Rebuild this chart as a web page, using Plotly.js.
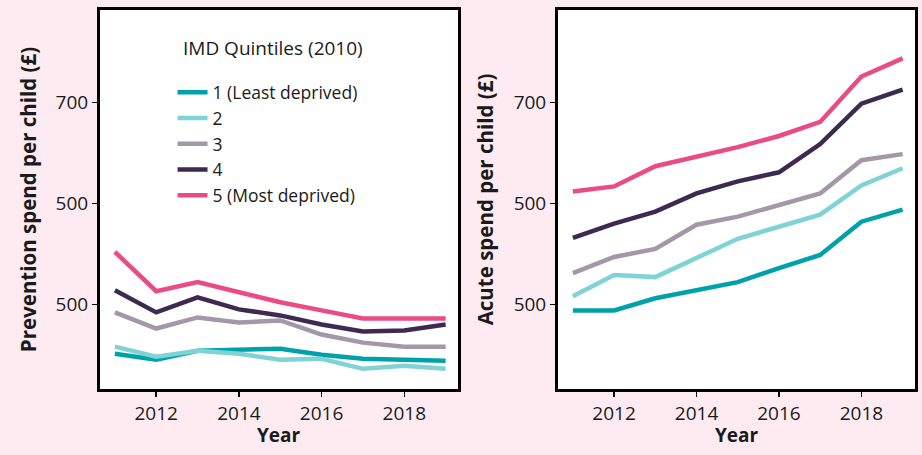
<!DOCTYPE html>
<html>
<head>
<meta charset="utf-8">
<script src="https://cdn.plot.ly/plotly-3.0.1.min.js"></script>
<style>html,body{margin:0;padding:0;background:#fdebf1;}</style>
</head>
<body>
<div id="chart" style="width:922px;height:455px;"></div>
<script>
const years = [2011, 2012, 2013, 2014, 2015, 2016, 2017, 2018, 2019];
const seriesNames = ["1 (Least deprived)", "2", "3", "4", "5 (Most deprived)"];
const seriesColors = ["#00a2a9", "#7fd3d5", "#a397a9", "#3e2a50", "#ea4b84"];
const legendTitle = "IMD Quintiles (2010)";
const xTitle = "Year";

// Prevention spend per child (left panel)
const prev1 = [451, 445, 454, 455, 456, 450, 446, 445, 444];
const prev2 = [458, 448, 454, 451, 445, 446, 436, 439, 436];
const prev3 = [492, 476, 487, 482, 484, 470, 462, 458, 458];
const prev4 = [514, 492, 507, 495, 489, 480, 473, 474, 480];
const prev5 = [552, 513, 522, 512, 502, 494, 486, 486, 486];

// Acute spend per child (right panel)
const acute1 = [494, 494, 506, 514, 522, 536, 549, 582, 594];
const acute2 = [508, 529, 527, 546, 565, 577, 589, 618, 635];
const acute3 = [531, 547, 555, 579, 587, 599, 610, 643, 649];
const acute4 = [566, 580, 592, 610, 622, 631, 659, 699, 713];
const acute5 = [612, 617, 637, 646, 656, 667, 681, 726, 744];

const yTickVals = [500, 600, 700];
const yTickText = ["500", "500", "700"];
const xTickVals = [2012, 2014, 2016, 2018];

const prevSeries = [prev1, prev2, prev3, prev4, prev5];
const acuteSeries = [acute1, acute2, acute3, acute4, acute5];

const traces = [];
prevSeries.forEach((vals, i) => {
  traces.push({
    x: years, y: vals, type: "scatter", mode: "lines",
    name: seriesNames[i], line: {color: seriesColors[i], width: 4.5},
    xaxis: "x", yaxis: "y", showlegend: true
  });
});
acuteSeries.forEach((vals, i) => {
  traces.push({
    x: years, y: vals, type: "scatter", mode: "lines",
    name: seriesNames[i], line: {color: seriesColors[i], width: 4.5},
    xaxis: "x2", yaxis: "y2", showlegend: false
  });
});

const FAM = "'Open Sans', Lato, sans-serif";
const TXT = "#1a1a1a";
const axisCommon = {
  showline: true, mirror: true, linecolor: "#000", linewidth: 3,
  showgrid: false, zeroline: false,
  ticks: "outside", ticklen: 5, tickwidth: 1.5, tickcolor: "#000",
  tickfont: {size: 19, color: TXT, family: FAM}
};
const yTitleFont = {size: 20.5, color: TXT, weight: "bold", family: FAM};
const xTitleFont = {size: 19, color: TXT, weight: "bold", family: FAM};

const xDom1 = [0, 0.4393];
const xDom2 = [0.562, 1];
const xTitleY = -(435 - 389) / 379;

const layout = {
  width: 922, height: 455,
  paper_bgcolor: "#fdebf1", plot_bgcolor: "#ffffff",
  font: {family: FAM, color: TXT},
  margin: {l: 100, r: 7, t: 10, b: 66},
  showlegend: true,
  legend: {
    x: 0.089, y: 0.83, xanchor: "left", yanchor: "top",
    bgcolor: "rgba(0,0,0,0)", traceorder: "normal",
    font: {size: 17.5, color: TXT, family: FAM},
    itemwidth: 30
  },
  annotations: [
    {
      text: legendTitle, xref: "paper", yref: "paper",
      x: (273 - 100) / 815, y: 1 - (48 - 10) / 379,
      xanchor: "center", yanchor: "middle", showarrow: false,
      font: {size: 19, color: TXT, family: FAM}
    },
    {
      text: "<b>" + xTitle + "</b>", xref: "paper", yref: "paper",
      x: (xDom1[0] + xDom1[1]) / 2, y: xTitleY,
      xanchor: "center", yanchor: "middle", showarrow: false,
      font: xTitleFont
    },
    {
      text: "<b>" + xTitle + "</b>", xref: "paper", yref: "paper",
      x: (xDom2[0] + xDom2[1]) / 2, y: xTitleY,
      xanchor: "center", yanchor: "middle", showarrow: false,
      font: xTitleFont
    }
  ],
  xaxis: Object.assign({}, axisCommon, {
    domain: xDom1, range: [2010.64, 2019.3],
    tickvals: xTickVals
  }),
  yaxis: Object.assign({}, axisCommon, {
    range: [416, 792], tickvals: yTickVals, ticktext: yTickText,
    title: {text: "Prevention spend per child (£)", font: yTitleFont, standoff: 14}
  }),
  xaxis2: Object.assign({}, axisCommon, {
    domain: xDom2, range: [2010.64, 2019.3], anchor: "y2",
    tickvals: xTickVals
  }),
  yaxis2: Object.assign({}, axisCommon, {
    anchor: "x2",
    range: [416, 792], tickvals: yTickVals, ticktext: yTickText,
    title: {text: "Acute spend per child (£)", font: yTitleFont, standoff: 15}
  })
};

Plotly.newPlot("chart", traces, layout, {displayModeBar: false, staticPlot: true});
</script>
</body>
</html>
